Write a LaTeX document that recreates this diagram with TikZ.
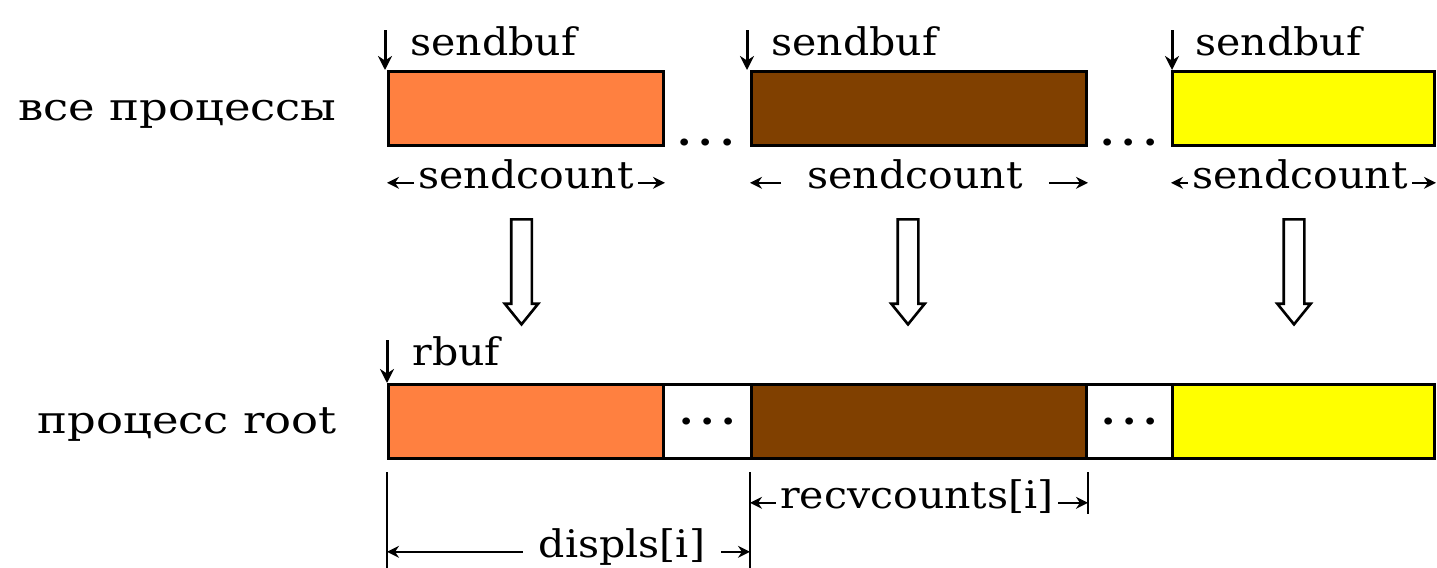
\documentclass[tikz,border=0pt]{standalone}
\usepackage{fontspec}
\setmainfont[FakeStretch=1.08]{DejaVu Serif}
\newfontfamily\rowfont[FakeStretch=1.18]{DejaVu Serif}
\usetikzlibrary{shapes.arrows,arrows.meta,calc}
\definecolor{bufA}{RGB}{255,128,64}
\definecolor{bufB}{RGB}{128,64,0}
\definecolor{bufC}{RGB}{255,255,0}
\begin{document}
\begin{tikzpicture}[x=0.5pt,y=-0.5pt,
  cell/.style={draw,line width=1.5pt,inner sep=0pt,anchor=north west,minimum height=37pt},
  txt/.style={font=\fontsize{19}{22}\selectfont,inner sep=0pt},
  rowlbl/.style={font=\rowfont\fontsize{19}{22}\selectfont,inner sep=0pt,anchor=base east},
  dots/.style={font=\bfseries\fontsize{19}{22}\selectfont,inner sep=0pt},
  dim/.style={line width=1.2pt,-{Stealth[length=6pt,width=6pt]}},
  ptr/.style={line width=1.5pt,-{Stealth[length=7pt,width=7pt]}},
  tick/.style={line width=1.3pt},
  hollow/.style={single arrow,draw,line width=1.3pt,fill=white,
    shape border rotate=270,inner sep=4.5pt,minimum height=52.5pt,
    single arrow head extend=3.2pt,single arrow tip angle=78}
]
\useasboundingbox (0,0) rectangle (1437,568);

% row labels
\node[rowlbl] (lall)  at (337,120) {все процессы};
\node[rowlbl] (lroot) at (337,433) {процесс root};

% send buffers of all processes
\node[cell,fill=bufA,minimum width=137.5pt] (s1) at (387,70) {};
\node[cell,fill=bufB,minimum width=167.5pt] (s2) at (750,70) {};
\node[cell,fill=bufC,minimum width=131pt]   (s3) at (1171,70) {};
\node[dots,anchor=base] (e1) at (706,145) {.\kern3.5pt.\kern3.5pt.};
\node[dots,anchor=base] (e2) at (1129,145) {.\kern3.5pt.\kern3.5pt.};

% sendbuf pointers
\foreach \i/\x in {1/385,2/747,3/1172}{
  \coordinate (p\i) at (\x,30);
  \draw[ptr] (p\i) -- (p\i |- s\i.north);
}
\node[txt,anchor=base west] (b1) at (410,55)  {sendbuf};
\node[txt,anchor=base west] (b2) at (771,55)  {sendbuf};
\node[txt,anchor=base west] (b3) at (1195,55) {sendbuf};

% sendcount extents
\node[txt,anchor=base,inner xsep=2pt]  (c1) at (526,188)  {sendcount};
\node[txt,anchor=base,inner xsep=13pt] (c2) at (915,188)  {sendcount};
\node[txt,anchor=base,inner xsep=2pt]  (c3) at (1300,188) {sendcount};
\foreach \i in {1,2,3}{
  \draw[dim] (c\i.mid west) -- (c\i.mid west -| s\i.west);
  \draw[dim] (c\i.mid east) -- (c\i.mid east -| s\i.east);
}

% transfer to root
\node[hollow] (h1) at (521.5,265.5) {};
\node[hollow] (h2) at (908,265.5) {};
\node[hollow] (h3) at (1294,265.5) {};

% receive buffer of root
\node[cell,fill=bufA,minimum width=137.5pt] (r1) at (387,383) {};
\node[cell,fill=white,minimum width=44pt]   (g1) at (662,383) {};
\node[cell,fill=bufB,minimum width=167.5pt] (r2) at (750,383) {};
\node[cell,fill=white,minimum width=43pt]   (g2) at (1085,383) {};
\node[cell,fill=bufC,minimum width=131pt]   (r3) at (1171,383) {};
\node[dots] (e3) at (g1.center) {.\kern3.5pt.\kern3.5pt.};
\node[dots] (e4) at (g2.center) {.\kern3.5pt.\kern3.5pt.};

% rbuf pointer
\coordinate (p0) at (387,340);
\draw[ptr] (p0) -- (p0 |- r1.north);
\node[txt,anchor=base west] (rb) at (412,365) {rbuf};

% extension lines
\coordinate (t1) at ($(r1.south west)+(0,12)$);
\coordinate (t2) at ($(r2.south west)+(0,12)$);
\coordinate (t3) at ($(r2.south east)+(0,12)$);
\coordinate (u1) at (t1 |- 0,568);
\coordinate (u2) at (t2 |- 0,568);
\coordinate (u3) at (t3 |- 0,514);
\draw[tick] (t1) -- (u1);
\draw[tick] (t2) -- (u2);
\draw[tick] (t3) -- (u3);

% recvcounts[i] and displs[i]
\node[txt,anchor=base,inner xsep=2pt] (rc) at (917,508) {recvcounts[i]};
\draw[dim] (rc.mid west) -- (rc.mid west -| t2);
\draw[dim] (rc.mid east) -- (rc.mid east -| t3);
\node[txt,anchor=base,inner xsep=8pt] (dp) at (622,557) {displs[i]};
\draw[dim] (dp.mid west) -- (dp.mid west -| t1);
\draw[dim] (dp.mid east) -- (dp.mid east -| t2);
\end{tikzpicture}
\end{document}
